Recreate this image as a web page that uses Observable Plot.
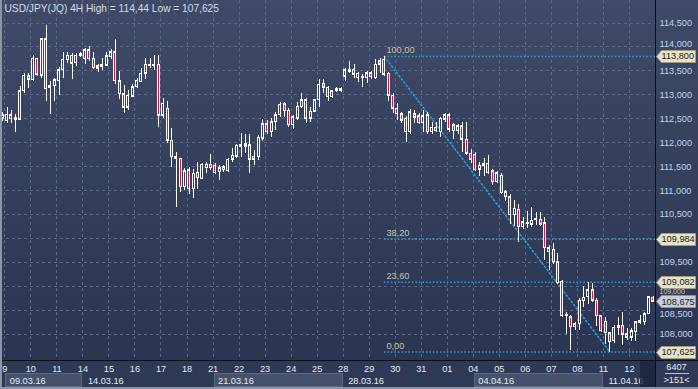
<!DOCTYPE html>
<html><head><meta charset="utf-8">
<script src="https://cdn.jsdelivr.net/npm/d3@7"></script>
<script src="https://cdn.jsdelivr.net/npm/@observablehq/plot@0.6"></script>
<style>html,body{margin:0;padding:0;background:#2e3955;}#chart{width:698px;height:389px;overflow:hidden}</style>
</head><body><div id="chart"></div>
<script>
// ---- data: USD/JPY 4H candles (8.03.16 last bar ... 12.04.16) ----
const opens = [112.50,112.45,112.57,112.47,112.48,113.07,113.39,113.30,113.75,113.40,114.16,113.14,113.18,113.28,113.51,113.72,113.82,113.66,113.81,113.74,113.93,113.75,113.54,113.58,113.61,113.78,113.89,113.28,113.01,112.73,112.96,113.16,113.26,113.44,113.61,113.61,113.63,112.56,112.71,112.04,111.70,111.66,111.07,111.42,111.03,111.37,111.24,111.47,111.54,111.52,111.38,111.49,111.40,111.64,111.71,111.92,111.92,111.95,111.64,111.70,112.08,112.38,112.22,112.43,112.57,112.80,112.67,112.36,112.50,112.74,112.89,112.50,112.65,112.89,113.23,113.15,112.95,113.07,113.08,113.38,113.47,113.52,113.35,113.35,113.35,113.45,113.35,113.63,113.73,113.44,112.98,112.71,112.59,112.50,112.22,112.52,112.55,112.41,112.57,112.22,112.31,112.22,112.48,112.57,112.36,112.24,112.34,112.06,111.77,111.75,111.43,111.51,111.56,111.40,111.17,111.31,110.96,110.86,110.48,110.60,110.23,110.31,110.29,110.39,110.39,110.32,109.71,109.76,109.50,109.10,108.37,108.35,108.14,108.21,108.69,108.77,108.92,108.70,108.37,108.26,108.02,107.85,108.13,108.18,108.00,107.93,108.04,108.23,108.25,108.42,108.76];
const highs = [112.63,112.73,112.67,112.58,113.17,113.45,113.45,113.82,113.76,114.18,114.44,113.28,113.35,113.58,113.89,113.89,113.86,113.86,113.89,113.96,114.01,113.89,113.63,113.76,113.88,113.94,114.16,113.49,113.19,113.09,113.21,113.35,113.54,113.75,113.75,113.82,113.82,112.92,112.87,112.29,111.80,111.68,111.47,111.49,111.45,111.59,111.56,111.59,111.75,111.56,111.52,111.52,111.66,111.87,111.97,112.20,112.17,112.17,111.84,112.15,112.48,112.46,112.50,112.64,112.84,112.84,112.71,112.57,112.84,113.02,112.92,112.74,112.90,113.31,113.32,113.17,113.10,113.15,113.16,113.56,113.70,113.63,113.47,113.42,113.49,113.49,113.73,113.75,113.80,113.47,113.02,112.81,112.64,112.55,112.69,112.67,112.62,112.67,112.64,112.43,112.43,112.52,112.60,112.61,112.41,112.39,112.43,112.43,111.85,111.80,111.59,111.68,111.73,111.43,111.40,111.35,111.01,110.91,110.80,110.71,110.44,110.56,110.64,110.55,110.55,110.43,109.85,109.89,109.68,109.13,108.45,108.39,108.25,108.74,108.99,109.08,109.05,108.74,108.39,108.35,108.04,108.18,108.34,108.46,108.11,108.11,108.27,108.39,108.46,108.78,108.78];
const lows = [112.44,112.41,112.41,112.22,112.48,113.03,113.14,113.28,113.39,113.35,112.87,112.59,112.87,112.98,113.35,113.65,113.32,113.60,113.78,113.63,113.70,113.53,113.47,113.51,113.60,113.74,113.21,112.90,112.61,112.67,112.94,113.14,113.26,113.31,113.54,113.51,112.32,112.50,111.98,111.49,110.65,110.96,111.00,110.92,110.83,111.03,111.23,111.35,111.42,111.33,111.21,111.38,111.38,111.59,111.68,111.70,111.77,111.36,111.52,111.63,112.03,112.18,112.11,112.25,112.53,112.53,112.31,112.27,112.46,112.71,112.41,112.43,112.64,112.74,113.03,112.87,112.93,113.04,113.05,113.28,113.44,113.35,113.25,113.15,113.23,113.33,113.33,113.44,113.39,112.87,112.60,112.46,112.41,112.01,112.17,112.41,112.38,112.22,112.17,112.18,112.22,112.10,112.43,112.22,112.06,112.18,111.80,111.73,111.57,111.40,111.29,111.29,111.33,111.10,111.14,110.92,110.78,110.29,110.25,109.92,110.18,110.20,110.23,110.27,110.25,109.54,109.33,109.45,109.04,108.34,108.00,107.66,108.07,108.07,108.56,108.63,108.66,108.16,108.04,107.78,107.625,107.81,107.97,107.76,107.86,107.85,107.85,108.20,108.18,108.41,108.67];
const closes = [112.57,112.58,112.49,112.51,113.07,113.40,113.31,113.75,113.42,114.16,113.12,113.19,113.30,113.51,113.73,113.82,113.65,113.82,113.86,113.93,113.74,113.56,113.60,113.63,113.81,113.89,113.28,113.01,112.73,112.98,113.16,113.29,113.44,113.63,113.63,113.63,112.56,112.81,112.04,111.70,111.66,111.07,111.40,111.03,111.35,111.26,111.54,111.54,111.47,111.36,111.47,111.42,111.64,111.73,111.94,111.96,111.97,111.64,111.71,112.10,112.38,112.22,112.43,112.57,112.79,112.66,112.36,112.53,112.75,112.89,112.50,112.65,112.89,113.21,113.15,112.95,113.07,113.12,113.12,113.51,113.52,113.42,113.44,113.38,113.45,113.37,113.63,113.70,113.42,112.98,112.71,112.59,112.46,112.22,112.64,112.59,112.41,112.55,112.22,112.31,112.24,112.50,112.57,112.27,112.24,112.34,112.06,111.77,111.64,111.42,111.52,111.56,111.36,111.17,111.36,110.94,110.86,110.48,110.62,110.23,110.34,110.32,110.37,110.41,110.29,109.79,109.79,109.50,109.06,108.37,108.40,108.14,108.21,108.70,108.76,108.92,108.70,108.37,108.06,108.02,107.83,108.13,108.18,107.99,107.93,108.06,108.25,108.27,108.42,108.77,108.675];

const dayLabels = ["9","10","11","14","15","16","17","18","21","22","23","24","25","28","29","30","31","01","04","05","06","07","08","11","12"];
const weekLabels = ["09.03.16","14.03.16","21.03.16","28.03.16","04.04.16","11.04.16"];
const weekFirstDay = [0,3,8,13,18,23];          // index into dayLabels
const yTicks = [108,108.5,109,109.5,110,110.5,111,111.5,112,112.5,113,113.5,114,114.5];
const fibRatios = [1, 0.382, 0.236, 0];
const fibNames = ["100,00","38,20","23,60","0,00"];
const fibFrom = 88, fibTo = 140;                 // swing high bar, swing low bar
const lastPrice = 108.675;
const titleText = "USD/JPY(JQ) 4H High = 114,44 Low = 107,625";
const volText = "6407", countText = ">151<";

// ---- derived ----
const barsPerDay = 6;
const n = opens.length;
const candles = opens.map((o, i) => ({i, open: o, high: highs[i], low: lows[i], close: closes[i]}));
const fmt3 = v => v.toFixed(3).replace(".", ",");
const yDomain = [107.45, 114.97];
const W = 698, H = 389, mR = 43, mB = 29;
const frameW = W - mR, frameH = H - mB;
const pxPerBar = frameW / n;
const hw = 1.5 / pxPerBar, iw = 0.5 / pxPerBar;
const bgTop = "#3e4a67", bgBottom = "#2b3552";
const bgAt = v => d3.interpolateRgb(bgTop, bgBottom)((yDomain[1] - v) / (yDomain[1] - yDomain[0]));
const red = "#dc143c";
const days = dayLabels.map((d, k) => ({x: 0.5 + barsPerDay * k, label: d}));
const weeks = weekLabels.map((w, k) => ({
  start: days[weekFirstDay[k]].x,
  end: k + 1 < weekLabels.length ? days[weekFirstDay[k + 1]].x : n - 0.5,
  label: w, boxed: k % 2 === 0
}));
const hi = highs[fibFrom], lo = lows[fibTo];
const fibs = fibRatios.map((r, k) => ({v: lo + r * (hi - lo), name: fibNames[k]}));
const diag = [{x: fibFrom, y: hi}, {x: fibTo, y: lo}];
const tags = fibs.map(f => ({v: f.v, cur: false})).concat([{v: lastPrice, cur: true}]);
const font = "'Liberation Sans', Arial, sans-serif";
const fs = 9.2;

// tick labels covered by a price tag: hidden if fully covered, else nudged out of the tag;
// if squeezed between two tags, centred in the gap with a smaller font
const pxPerUnit = frameH / (yDomain[1] - yDomain[0]);
const toPx = v => (yDomain[1] - v) * pxPerUnit;
const tagPx = tags.map(g => toPx(g.v));
const tickLabels = [];
for (const t of yTicks) {
  const p = toPx(t);
  let dy = 0, hidden = false, size = fs;
  for (const tp of tagPx) {
    const d = p - tp;
    if (Math.abs(d) < 3) hidden = true;
    else if (Math.abs(d) < 12) dy = Math.sign(d) * (12 - Math.abs(d));
  }
  if (hidden) continue;
  if (dy !== 0) {
    const np = p + dy;
    const other = tagPx.find(tp => Math.abs(np - tp) < 11);
    if (other !== undefined) {
      const above = tagPx.filter(tp => tp < np).sort((a, b) => b - a)[0];
      const below = tagPx.filter(tp => tp > np).sort((a, b) => a - b)[0];
      dy = (above + below) / 2 - p;
      size = 7;
    }
  }
  tickLabels.push({v: t, dy: Math.round(dy * 10) / 10, size});
}
const dyGroups = d3.groups(tickLabels, d => d.dy + "|" + d.size);

function bandMark(index, scales, values, dims) {
  const g = d3.create("svg:g");
  const x = scales.x;
  const fb = dims.height - dims.marginBottom;
  for (const w of weeks) {
    if (!w.boxed) continue;
    const x0 = Math.round(x(w.start)) + 1.5, x1 = Math.round(x(w.end)) - 0.5;
    g.append("rect").attr("x", x0).attr("y", fb + 13.5).attr("width", x1 - x0).attr("height", 13)
      .attr("fill", "#46526c").attr("stroke", "#5d6983");
  }
  return g.node();
}
function overlayMark(index, scales, values, dims) {
  const g = d3.create("svg:g");
  const y = scales.y;
  const fb = dims.height - dims.marginBottom;
  const fr = dims.width - dims.marginRight;
  g.append("rect").attr("x", fr - 15).attr("y", fb + 1).attr("width", 15).attr("height", dims.marginBottom - 3)
    .attr("fill", "#1c2438").attr("opacity", 0.8);
  g.append("line").attr("x1", 0).attr("x2", dims.width).attr("y1", fb + 0.5).attr("y2", fb + 0.5).attr("stroke", "#0b0f19");
  g.append("line").attr("x1", fr + 0.5).attr("x2", fr + 0.5).attr("y1", 0).attr("y2", dims.height).attr("stroke", "#0b0f19");
  g.append("line").attr("x1", fr + 10).attr("x2", fr + 34).attr("y1", fb + 13.5).attr("y2", fb + 13.5).attr("stroke", "#b8c2d2");
  g.append("rect").attr("x", 0).attr("y", 0).attr("width", 2).attr("height", dims.height).attr("fill", "#8d96a9");
  g.append("rect").attr("x", 0).attr("y", dims.height - 2).attr("width", dims.width).attr("height", 2).attr("fill", "#8d96a9");
  for (const t of tags) {
    const yy = Math.round(y(t.v)) + 0.5;
    g.append("polygon")
      .attr("points", [[fr + 1.5, yy], [fr + 6.5, yy - 6], [dims.width - 2.5, yy - 6], [dims.width - 2.5, yy + 6], [fr + 6.5, yy + 6]].join(" "))
      .attr("fill", t.cur ? "#c9cdd6" : "#e7e3c7").attr("stroke", t.cur ? "#8e94a2" : "#a19d84");
  }
  return g.node();
}

const textOpts = {fontSize: fs, fontFamily: font, lineAnchor: "middle"};
const plot = Plot.plot({
  width: W, height: H,
  marginTop: 0, marginLeft: 0, marginRight: mR, marginBottom: mB,
  x: {domain: [-0.5, n - 0.5], axis: null},
  y: {domain: yDomain, axis: null},
  color: {type: "identity"},
  style: {
    background: `linear-gradient(to bottom, ${bgTop} 0px, ${bgBottom} 360px, #2e3955 360px, #2e3955 389px)`,
    fontFamily: font, fontSize: fs + "px", overflow: "hidden"
  },
  marks: [
    bandMark,
    Plot.ruleY(yTicks, {stroke: "#5a6785", strokeDasharray: "3,3", shapeRendering: "crispEdges"}),
    Plot.ruleX(days, {x: "x", stroke: "#5a6785", strokeDasharray: "3,3", shapeRendering: "crispEdges"}),
    Plot.ruleY(fibs, {y: "v", x1: fibFrom, x2: n - 0.5, stroke: "#1ea3e6", strokeWidth: 1.5, strokeDasharray: "1.5,2"}),
    Plot.line(diag, {x: "x", y: "y", stroke: "#1ea3e6", strokeWidth: 1.5, strokeDasharray: "1.5,2.5"}),
    Plot.ruleX(candles, {x: "i", y1: "low", y2: "high", stroke: "#ffffff", strokeWidth: 1, shapeRendering: "crispEdges"}),
    Plot.rect(candles, {x1: d => d.i - hw, x2: d => d.i + hw, y1: "open", y2: "close", fill: "#ffffff",
      insetTop: -0.5, insetBottom: -0.5, shapeRendering: "crispEdges"}),
    Plot.rect(candles.filter(d => Math.abs(d.open - d.close) > 0.055), {
      x1: d => d.i - iw, x2: d => d.i + iw, y1: "open", y2: "close", insetTop: 1, insetBottom: 1,
      fill: d => d.close < d.open ? red : bgAt((d.open + d.close) / 2), shapeRendering: "crispEdges"}),
    Plot.text(fibs, {...textOpts, x: fibFrom, y: "v", text: "name", dy: -6, dx: 2, textAnchor: "start", fill: "#cbc4a6"}),
    Plot.text([titleText], {...textOpts, frameAnchor: "top-left", dx: 4, dy: 8, textAnchor: "start", fill: "#d6dde9", fontSize: 10.2}),
    ...dyGroups.map(([key, arr]) => Plot.text(arr, {...textOpts, y: "v", text: d => fmt3(d.v), frameAnchor: "right", dx: 4,
      dy: arr[0].dy, fontSize: arr[0].size, textAnchor: "start", fill: "#c0d3ee"})),
    Plot.text(days, {...textOpts, x: "x", text: "label", frameAnchor: "bottom", dy: 8.5, textAnchor: "middle", fill: "#e4e9f1"}),
    Plot.text(weeks, {...textOpts, x: "start", text: "label", frameAnchor: "bottom", dy: 20.5, dx: 5, textAnchor: "start", fill: "#e4e9f1"}),
    overlayMark,
    Plot.text(tags, {...textOpts, y: "v", text: d => fmt3(d.v), frameAnchor: "right", dx: 6, textAnchor: "start", fill: "#1d1d1d"}),
    Plot.text([volText], {...textOpts, frameAnchor: "bottom-right", dx: 21, dy: 6.5, textAnchor: "middle", fill: "#e4e9f1"}),
    Plot.text([countText], {...textOpts, frameAnchor: "bottom-right", dx: 21, dy: 20, textAnchor: "middle", fill: "#e4e9f1"})
  ]
});
document.getElementById("chart").appendChild(plot);
</script>
</body></html>
